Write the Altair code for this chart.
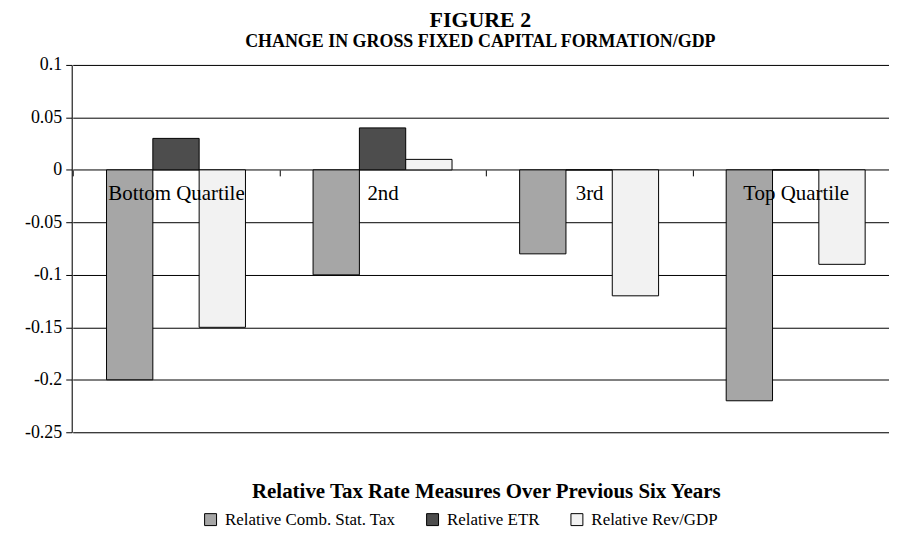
import altair as alt
import pandas as pd

FONT = "Liberation Serif"

categories = ["Bottom Quartile", "2nd", "3rd", "Top Quartile"]
series = ["Relative Comb. Stat. Tax", "Relative ETR", "Relative Rev/GDP"]
comb = [-0.20, -0.10, -0.08, -0.22]
etr = [0.03, 0.04, 0.0, 0.0]
rev = [-0.15, 0.01, -0.12, -0.09]
y_ticks = [0.1, 0.05, 0, -0.05, -0.1, -0.15, -0.2, -0.25]
colors = ["#a6a6a6", "#4d4d4d", "#f2f2f2"]

rows = []
for i, c in enumerate(categories):
    for s, vals in zip(series, [comb, etr, rev]):
        rows.append({"category": c, "series": s, "value": vals[i]})
df = pd.DataFrame(rows)
cat_df = pd.DataFrame({"category": categories})

W, H = 821, 369
y_min, y_max = -0.25, 0.1
zero_offset = -H * (0 - y_min) / (y_max - y_min)

x_scale = alt.Scale(domain=categories, paddingInner=0, paddingOuter=0, range=[1, 831])

bars = alt.Chart(df).mark_bar(stroke="black", strokeWidth=1).encode(
    x=alt.X("category:N", sort=categories, scale=x_scale,
            axis=alt.Axis(orient="bottom", offset=zero_offset, title=None, labelAngle=0,
                          labelFont=FONT, labelFontSize=21, labelColor="black",
                          labelPadding=7, tickBand="extent", tickSize=6, tickColor="black",
                          domain=False, zindex=1)),
    xOffset=alt.XOffset("series:N", sort=series,
                        scale=alt.Scale(domain=series, paddingOuter=0.73, paddingInner=0)),
    y=alt.Y("value:Q", scale=alt.Scale(domain=[y_min, y_max], nice=False),
            axis=alt.Axis(values=y_ticks, title=None,
                          labelExpr="datum.value == 0 ? '0' : (datum.value < 0 ? '-' : '') + format(abs(datum.value), '.2~f')",
                          grid=True, gridColor="black", gridOpacity=1, gridWidth=1,
                          domainColor="black", tickColor="black", tickSize=6,
                          labelFont=FONT, labelFontSize=18, labelColor="black", labelPadding=4)),
    y2=alt.datum(0),
    color=alt.Color("series:N", sort=series,
                    scale=alt.Scale(domain=series, range=colors),
                    legend=alt.Legend(orient="none", direction="horizontal", title=None,
                                      legendX=131, legendY=448,
                                      symbolType="square", symbolSize=144,
                                      symbolStrokeColor="black", symbolStrokeWidth=1,
                                      symbolOpacity=1, labelLimit=500,
                                      labelFont=FONT, labelFontSize=17, labelColor="black",
                                      columnPadding=28, labelOffset=6)),
)

xtitle = alt.Chart(cat_df).mark_rule(opacity=0).encode(
    x=alt.X("category:N", sort=categories, scale=x_scale,
            axis=alt.Axis(orient="bottom", title="Relative Tax Rate Measures Over Previous Six Years",
                          labels=False, ticks=False, domain=False,
                          titleFont=FONT, titleFontSize=21, titleFontWeight="bold",
                          titleColor="black", titleY=60, titleBaseline="middle")),
)

chart = alt.layer(bars, xtitle).resolve_axis(x="independent").properties(
    width=W, height=H,
    autosize=alt.AutoSizeParams(type="none"),
    padding={"left": 64, "top": 56, "right": 0, "bottom": 100},
    title=alt.TitleParams(text="FIGURE 2",
                          subtitle="CHANGE IN GROSS FIXED CAPITAL FORMATION/GDP",
                          font=FONT, fontSize=22, fontWeight="bold", color="black",
                          subtitleFont=FONT, subtitleFontSize=18, subtitleFontWeight="bold",
                          subtitleColor="black", subtitlePadding=1,
                          anchor="middle", offset=4),
).configure_view(stroke=None).configure(background="white", font=FONT)

chart.save("out.html", embed_options={"renderer": "svg", "actions": False})
